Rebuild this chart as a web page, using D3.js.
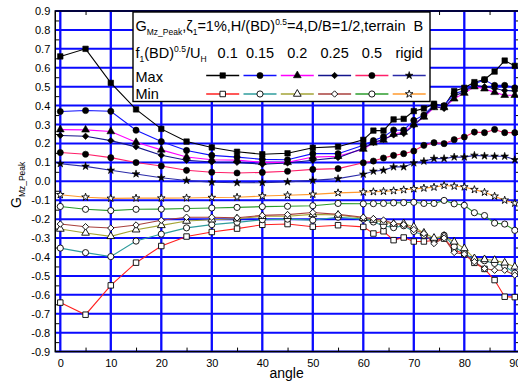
<!DOCTYPE html>
<html>
<head>
<meta charset="utf-8">
<script src="https://cdn.jsdelivr.net/npm/d3@7"></script>
<style>
  body { margin: 0; background: #fff; }
  svg { display: block; font-family: "Liberation Sans", Arial, sans-serif; }
  text { white-space: pre; }
</style>
</head>
<body>
<svg id="chart" width="518" height="387"></svg>
<script>
// Wind direction (deg)
const angles = [0, 5, 10, 15, 20, 25, 30, 35, 40, 45, 50, 55, 60, 62, 64, 66, 68, 70, 72, 74, 76, 78, 80, 82, 84, 86, 88, 90];

// Peak torsional coefficient, maximum envelope, per reduced frequency
const max01 = [0.66, 0.70, 0.52, 0.38, 0.277, 0.21, 0.179, 0.156, 0.143, 0.148, 0.177, 0.183, 0.219, 0.268, 0.268, 0.327, 0.33, 0.371, 0.385, 0.41, 0.396, 0.477, 0.494, 0.524, 0.538, 0.58, 0.638, 0.61];
const max015 = [0.369, 0.374, 0.37, 0.27, 0.21, 0.163, 0.137, 0.128, 0.116, 0.114, 0.146, 0.146, 0.19, 0.215, 0.235, 0.271, 0.27, 0.322, 0.35, 0.405, 0.40, 0.463, 0.48, 0.515, 0.536, 0.507, 0.507, 0.494];
const max02 = [0.273, 0.272, 0.263, 0.206, 0.166, 0.128, 0.114, 0.112, 0.10, 0.10, 0.128, 0.132, 0.17, 0.203, 0.218, 0.25, 0.26, 0.30, 0.34, 0.39, 0.39, 0.436, 0.466, 0.50, 0.489, 0.47, 0.455, 0.455];
const max025 = [0.242, 0.238, 0.215, 0.182, 0.138, 0.111, 0.102, 0.10, 0.09, 0.097, 0.111, 0.125, 0.175, 0.205, 0.222, 0.245, 0.252, 0.296, 0.345, 0.395, 0.385, 0.45, 0.475, 0.508, 0.50, 0.49, 0.48, 0.478];
const max05 = [0.152, 0.143, 0.125, 0.099, 0.081, 0.058, 0.048, 0.044, 0.047, 0.053, 0.063, 0.067, 0.098, 0.107, 0.123, 0.137, 0.146, 0.16, 0.19, 0.204, 0.199, 0.22, 0.234, 0.26, 0.257, 0.274, 0.257, 0.257];
const maxRigid = [0.093, 0.079, 0.058, 0.039, 0.019, 0.004, -0.005, -0.008, -0.007, -0.003, 0.005, 0.014, 0.037, 0.053, 0.058, 0.076, 0.076, 0.097, 0.106, 0.12, 0.12, 0.128, 0.128, 0.137, 0.134, 0.132, 0.132, 0.114];

// Minimum envelope
const min01 = [-0.641, -0.705, -0.55, -0.43, -0.342, -0.292, -0.268, -0.25, -0.23, -0.226, -0.24, -0.232, -0.241, -0.276, -0.264, -0.311, -0.297, -0.318, -0.318, -0.313, -0.303, -0.36, -0.385, -0.431, -0.463, -0.522, -0.61, -0.612];
const min015 = [-0.353, -0.377, -0.398, -0.316, -0.279, -0.246, -0.229, -0.217, -0.203, -0.2, -0.205, -0.19, -0.2, -0.215, -0.235, -0.245, -0.235, -0.265, -0.285, -0.31, -0.285, -0.345, -0.38, -0.415, -0.42, -0.434, -0.448, -0.485];
const min02 = [-0.252, -0.273, -0.291, -0.256, -0.233, -0.21, -0.203, -0.198, -0.185, -0.185, -0.175, -0.178, -0.195, -0.205, -0.215, -0.225, -0.223, -0.241, -0.273, -0.30, -0.29, -0.32, -0.355, -0.408, -0.413, -0.417, -0.431, -0.452];
const min025 = [-0.226, -0.24, -0.247, -0.231, -0.206, -0.19, -0.19, -0.193, -0.18, -0.176, -0.165, -0.175, -0.19, -0.197, -0.205, -0.223, -0.229, -0.255, -0.276, -0.329, -0.30, -0.376, -0.385, -0.425, -0.461, -0.47, -0.47, -0.496];
const min05 = [-0.133, -0.148, -0.155, -0.148, -0.147, -0.144, -0.141, -0.138, -0.134, -0.132, -0.129, -0.117, -0.119, -0.118, -0.117, -0.114, -0.113, -0.111, -0.117, -0.117, -0.101, -0.119, -0.127, -0.166, -0.181, -0.221, -0.226, -0.259];
const minRigid = [-0.071, -0.084, -0.09, -0.089, -0.089, -0.088, -0.086, -0.084, -0.078, -0.074, -0.069, -0.061, -0.057, -0.055, -0.053, -0.05, -0.045, -0.04, -0.036, -0.031, -0.022, -0.026, -0.03, -0.044, -0.058, -0.079, -0.1, -0.116];

const caseLabels = ["0.1", "0.15", "0.2", "0.25", "0.5", "rigid"];
const xTicks = [0, 10, 20, 30, 40, 50, 60, 70, 80, 90];
const xMinorTicks = [5, 15, 25, 35, 45, 55, 65, 75, 85];
const yTicks = [-0.9, -0.8, -0.7, -0.6, -0.5, -0.4, -0.3, -0.2, -0.1, 0, 0.1, 0.2, 0.3, 0.4, 0.5, 0.6, 0.7, 0.8, 0.9];
const yMinorTicks = [-0.85, -0.75, -0.65, -0.55, -0.45, -0.35, -0.25, -0.15, -0.05, 0.05, 0.15, 0.25, 0.35, 0.45, 0.55, 0.65, 0.75, 0.85];

const diamond = d3.symbolDiamond2 || d3.symbolDiamond;
const symbols = [d3.symbolSquare, d3.symbolCircle, d3.symbolTriangle, diamond, d3.symbolCircle, d3.symbolStar];
const symbolSizes = [30, 30, 26, 26, 30, 18];
const maxColors = ["#000000", "#1010ff", "#ff00ff", "#14148c", "#ff1f6a", "#2a2aa8"];
const minColors = ["#ff2020", "#2f9c9c", "#a3a336", "#a8403c", "#2c9c2c", "#ff9a2e"];

const maxSeries = [max01, max015, max02, max025, max05, maxRigid];
const minSeries = [min01, min015, min02, min025, min05, minRigid];

const series = [];
caseLabels.forEach((lab, i) => {
  series.push({ kind: "Max", label: lab, values: maxSeries[i], color: maxColors[i], symbol: symbols[i], size: symbolSizes[i], filled: true, idx: i });
});
caseLabels.forEach((lab, i) => {
  series.push({ kind: "Min", label: lab, values: minSeries[i], color: minColors[i], symbol: symbols[i], size: symbolSizes[i], filled: false, idx: i });
});

const W = 518, H = 387;
const svg = d3.select("#chart");
const x = d3.scaleLinear().domain([-1, 91]).range([55.25, 519.85]);
const y = d3.scaleLinear().domain([-0.9, 0.9]).range([351.6, 11]);
const [x0, x1] = x.range();
const [yb, yt] = y.range();

// grid
const grid = svg.append("g");
grid.selectAll("line.v").data(xTicks).join("line")
  .attr("x1", d => x(d)).attr("x2", d => x(d))
  .attr("y1", yt).attr("y2", yb)
  .attr("stroke", "#0a0aff").attr("stroke-width", 2.3);
grid.selectAll("line.h").data(yTicks).join("line")
  .attr("x1", x0).attr("x2", x1)
  .attr("y1", d => y(d)).attr("y2", d => y(d))
  .attr("stroke", "#0a0aff").attr("stroke-width", 2);

// minor ticks, pointing inward on all four sides
const tickLen = 4;
svg.append("g").attr("transform", `translate(${x0},0)`)
  .call(d3.axisLeft(y).tickValues(yMinorTicks).tickSize(-tickLen).tickFormat(""))
  .call(g => g.select(".domain").remove())
  .selectAll("line").attr("stroke", "#000").attr("stroke-width", 1);
svg.append("g").attr("transform", `translate(${x1},0)`)
  .call(d3.axisRight(y).tickValues(yMinorTicks).tickSize(-tickLen).tickFormat(""))
  .call(g => g.select(".domain").remove())
  .selectAll("line").attr("stroke", "#000").attr("stroke-width", 1);
svg.append("g").attr("transform", `translate(0,${yb})`)
  .call(d3.axisBottom(x).tickValues(xMinorTicks).tickSize(-tickLen).tickFormat(""))
  .call(g => g.select(".domain").remove())
  .selectAll("line").attr("stroke", "#000").attr("stroke-width", 1);
svg.append("g").attr("transform", `translate(0,${yt})`)
  .call(d3.axisTop(x).tickValues(xMinorTicks).tickSize(-tickLen).tickFormat(""))
  .call(g => g.select(".domain").remove())
  .selectAll("line").attr("stroke", "#000").attr("stroke-width", 1);

// tick labels
const fmtY = v => (v < -1e-9 ? "-" : "") + Math.abs(v).toFixed(1);
svg.append("g").attr("transform", `translate(${x0},0)`)
  .call(d3.axisLeft(y).tickValues(yTicks).tickSize(0).tickPadding(5).tickFormat(fmtY))
  .call(g => g.select(".domain").remove())
  .selectAll("text").attr("font-size", 11).attr("fill", "#000")
  .attr("font-family", '"Liberation Sans", Arial, sans-serif');
svg.append("g").attr("transform", `translate(0,${yb})`)
  .call(d3.axisBottom(x).tickValues(xTicks).tickSize(0).tickPadding(8).tickFormat(d3.format("d")))
  .call(g => g.select(".domain").remove())
  .selectAll("text").attr("font-size", 11).attr("fill", "#000")
  .attr("font-family", '"Liberation Sans", Arial, sans-serif');

// series lines and markers
const line = d3.line().x((d, i) => x(angles[i])).y(d => y(d));
const plot = svg.append("g");
series.forEach(s => {
  plot.append("path").datum(s.values)
    .attr("d", line).attr("fill", "none")
    .attr("stroke", s.color).attr("stroke-width", 1.1);
});
series.forEach(s => {
  const sym = d3.symbol().type(s.symbol).size(s.size);
  plot.append("g").selectAll("path").data(s.values).join("path")
    .attr("transform", (d, i) => `translate(${x(angles[i])},${y(d)})`)
    .attr("d", sym)
    .attr("fill", s.filled ? "#000" : "#fff")
    .attr("stroke", "#000").attr("stroke-width", s.filled ? 0.6 : 0.9);
});

// frame
svg.append("rect").attr("x", x0).attr("y", yt)
  .attr("width", x1 - x0).attr("height", yb - yt)
  .attr("fill", "none").attr("stroke", "#000").attr("stroke-width", 1.5);

// axis titles
svg.append("text").attr("x", (x0 + W) / 2).attr("y", 377.5)
  .attr("text-anchor", "middle").attr("font-size", 14).text("angle");
const yTitle = svg.append("text")
  .attr("transform", "translate(21,208) rotate(-90)")
  .attr("font-size", 14);
yTitle.append("tspan").text("G");
yTitle.append("tspan").attr("font-size", 8.5).attr("dy", 4).text("Mz_Peak");

// legend box
const lg = svg.append("g");
lg.append("rect").attr("x", 133).attr("y", 12).attr("width", 297).attr("height", 89.5)
  .attr("fill", "#fff").attr("stroke", "#000").attr("stroke-width", 1.4);

const fs = 14.5, fsSub = 8.5;
const t1 = lg.append("text").attr("x", 135.5).attr("y", 30.5).attr("font-size", fs);
t1.append("tspan").text("G");
t1.append("tspan").attr("font-size", fsSub).attr("dy", 4).text("Mz_Peak");
t1.append("tspan").attr("dy", -4).text(",ζ");
t1.append("tspan").attr("font-size", fsSub).attr("dy", 4).text("1");
t1.append("tspan").attr("dy", -4).text("=1%,H/(BD)");
t1.append("tspan").attr("font-size", fsSub).attr("dy", -6).text("0.5");
t1.append("tspan").attr("dy", 6).text("=4,D/B=1/2,terrain  B");

const t2 = lg.append("text").attr("x", 135.5).attr("y", 57.5).attr("font-size", fs);
t2.append("tspan").text("f");
t2.append("tspan").attr("font-size", fsSub).attr("dy", 4).text("1");
t2.append("tspan").attr("dy", -4).text("(BD)");
t2.append("tspan").attr("font-size", fsSub).attr("dy", -6).text("0.5");
t2.append("tspan").attr("dy", 6).text("/U");
t2.append("tspan").attr("font-size", fsSub).attr("dy", 4).text("H");

const sampleX = caseLabels.map((d, i) => 222.7 + i * 37.3);
lg.selectAll("text.case").data(caseLabels).join("text")
  .attr("x", (d, i) => sampleX[i] + (i === 0 ? 5 : 0)).attr("y", 57.5)
  .attr("text-anchor", "middle").attr("font-size", fs).text(d => d);

lg.append("text").attr("x", 135.5).attr("y", 81.5).attr("font-size", fs).text("Max");
lg.append("text").attr("x", 135.5).attr("y", 99).attr("font-size", fs).text("Min");

const rowY = { Max: 75.5, Min: 94 };
series.forEach(s => {
  const cx = sampleX[s.idx], cy = rowY[s.kind];
  lg.append("line").attr("x1", cx - 16.5).attr("x2", cx + 16.5)
    .attr("y1", cy).attr("y2", cy)
    .attr("stroke", s.color).attr("stroke-width", 1.4);
  lg.append("path").attr("transform", `translate(${cx},${cy})`)
    .attr("d", d3.symbol().type(s.symbol).size(s.size)())
    .attr("fill", s.filled ? "#000" : "#fff")
    .attr("stroke", "#000").attr("stroke-width", s.filled ? 0.6 : 0.9);
});
</script>
</body>
</html>
